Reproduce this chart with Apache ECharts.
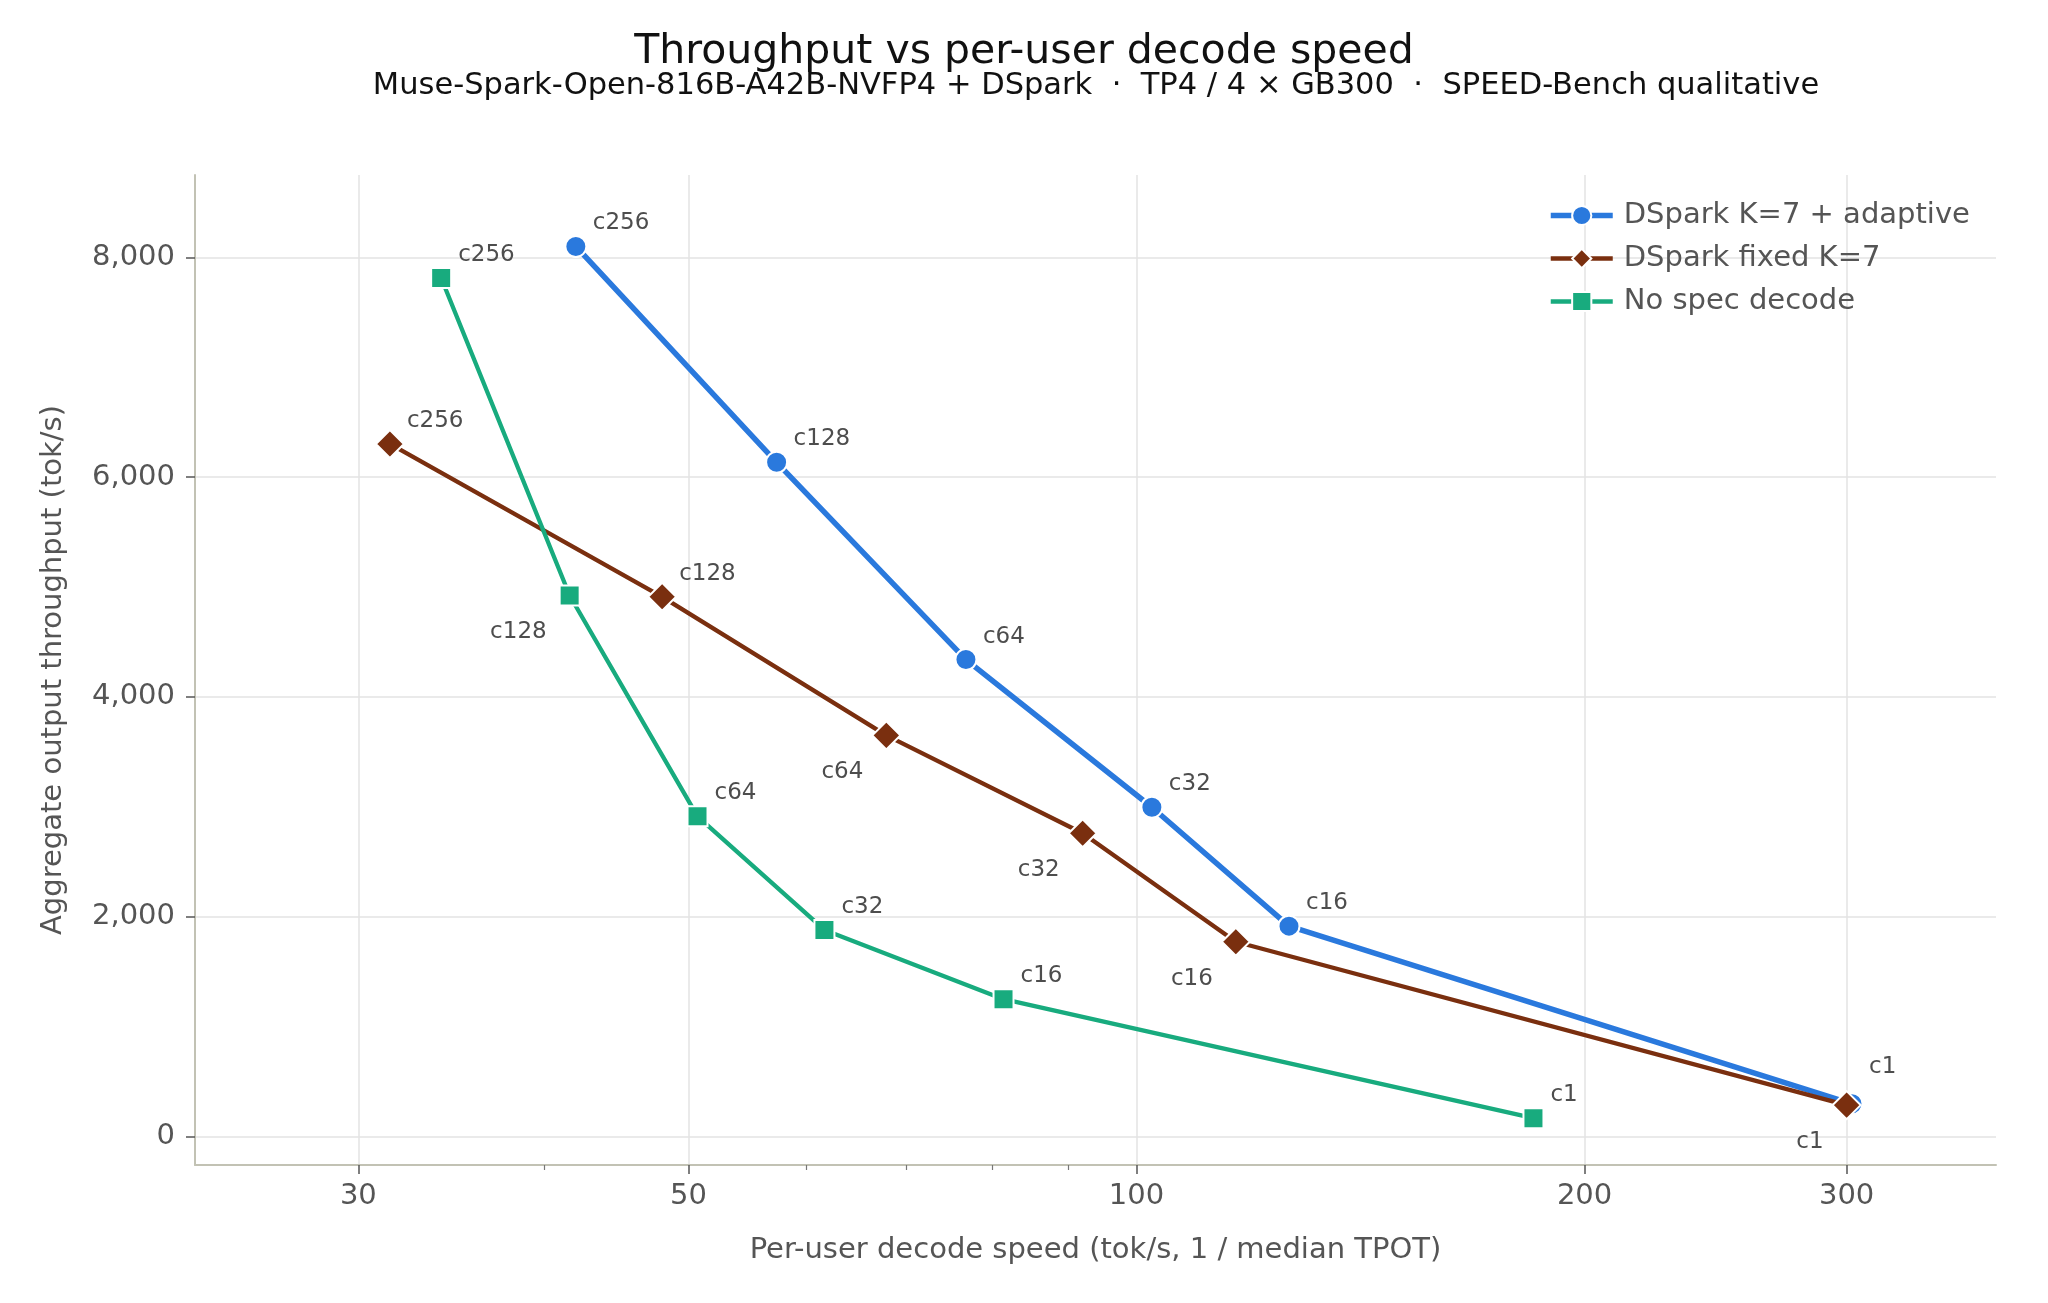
<!DOCTYPE html>
<html lang="en">
<head>
  <meta charset="UTF-8">
  <title>Throughput vs per-user decode speed</title>
  <script src="https://cdn.jsdelivr.net/npm/echarts@6/dist/echarts.min.js"></script>
</head>
<body style="margin:0">
  <div id="main" style="width:2048px;height:1303px;"></div>
<script>
// concurrency levels, same order for all three runs
var concurrency = ['c256', 'c128', 'c64', 'c32', 'c16', 'c1'];

// per-user decode speed (tok/s) and aggregate throughput (tok/s)
var adaptiveSpeed = [42.0, 57.3, 76.8, 102.4, 126.6, 302.5];
var adaptiveTput  = [8100, 6135, 4340, 2996, 1914, 297];
var fixedSpeed    = [31.5, 48.0, 67.9, 92.0, 116.6, 300.0];
var fixedTput     = [6302, 4911, 3650, 2759, 1772, 285];
var noSpecSpeed   = [34.1, 41.6, 50.7, 61.7, 81.4, 184.8];
var noSpecTput    = [7812, 4923, 2913, 1879, 1249, 166];

var xMajorTicks = [30, 50, 100, 200, 300];
var xMinorTicks = [40, 60, 70, 80, 90];
var yTicks = [0, 2000, 4000, 6000, 8000];

var chart = echarts.init(document.getElementById('main'));
var FONT = 'DejaVu Sans';

var BLUE = '#2a79dd', BROWN = '#7a2f0f', GREEN = '#18ab7e';

// labels that sit below-left of their marker instead of above-right
var belowLeft = {
  fixed: ['c64', 'c32', 'c16', 'c1'],
  noSpec: ['c128']
};
// a few labels nudged further up to clear neighbours
var raised = { adaptive: { c1: 14 } };

function points(xs, ys, key) {
  var below = belowLeft[key] || [];
  var lift = raised[key] || {};
  return xs.map(function (x, i) {
    var name = concurrency[i];
    var isBelow = below.indexOf(name) >= 0;
    var up = lift[name] || 0;
    return {
      name: name,
      value: [x, ys[i]],
      label: {
        show: true,
        formatter: name,
        position: 'inside',
        align: isBelow ? 'right' : 'left',
        verticalAlign: 'middle',
        offset: isBelow ? [-23, 37] : [17, -23 - up],
        fontFamily: FONT,
        fontSize: 23,
        color: '#4d4d4d'
      }
    };
  });
}

var gridBox = { left: 195, right: 52, top: 175, bottom: 138 };

var option = {
  animation: false,
  backgroundColor: '#ffffff',
  textStyle: { fontFamily: FONT },
  graphic: [
    {
      type: 'text', x: 1024, y: 52,
      style: { text: 'Throughput vs per-user decode speed', font: '41px "DejaVu Sans"', fill: '#111', align: 'center', verticalAlign: 'middle' }
    },
    {
      type: 'text', x: 1096, y: 86,
      style: { text: 'Muse-Spark-Open-816B-A42B-NVFP4 + DSpark  \u00b7  TP4 / 4 \u00d7 GB300  \u00b7  SPEED-Bench qualitative', font: '30.5px "DejaVu Sans"', fill: '#111', align: 'center', verticalAlign: 'middle' }
    }
  ],
  legend: {
    orient: 'vertical',
    left: 1543,
    top: 196,
    itemWidth: 62,
    itemHeight: 24,
    itemGap: 14,
    textStyle: { fontFamily: FONT, fontSize: 29, color: '#555', padding: [0, 0, 0, 6] },
    data: [
      { name: 'DSpark K=7 + adaptive', lineStyle: { width: 5.5 } },
      { name: 'DSpark fixed K=7', lineStyle: { width: 4.5 } },
      { name: 'No spec decode', lineStyle: { width: 4.3 } }
    ]
  },
  grid: [
    Object.assign({}, gridBox),
    Object.assign({}, gridBox)
  ],
  xAxis: [
    {
      type: 'log',
      logBase: 10,
      min: 23.3,
      max: 378,
      gridIndex: 0,
      position: 'bottom',
      name: 'Per-user decode speed (tok/s, 1 / median TPOT)',
      nameLocation: 'middle',
      nameGap: 71,
      nameTextStyle: { fontFamily: FONT, fontSize: 29, color: '#555', verticalAlign: 'top' },
      axisLine: { show: true, onZero: false, lineStyle: { color: '#c2c2b4', width: 2 } },
      axisTick: { show: true, length: 9, customValues: xMajorTicks, lineStyle: { color: '#555', width: 1.5 } },
      axisLabel: { customValues: xMajorTicks, margin: 17, fontFamily: FONT, fontSize: 29, color: '#555' },
      splitLine: { show: true, lineStyle: { color: '#e3e3e3', width: 1.5 } }
    },
    {
      type: 'log',
      logBase: 10,
      min: 23.3,
      max: 378,
      gridIndex: 1,
      position: 'bottom',
      axisLine: { show: false, onZero: false },
      axisTick: { show: true, length: 5, customValues: xMinorTicks, lineStyle: { color: '#777', width: 1.2 } },
      axisLabel: { show: false },
      splitLine: { show: false }
    }
  ],
  yAxis: [
    {
      type: 'value',
      min: -260,
      max: 8750,
      gridIndex: 0,
      name: 'Aggregate output throughput (tok/s)',
      nameLocation: 'middle',
      nameGap: 127,
      nameTextStyle: { fontFamily: FONT, fontSize: 29, color: '#555' },
      axisLine: { show: true, onZero: false, lineStyle: { color: '#c2c2b4', width: 2 } },
      axisTick: { show: true, length: 9, customValues: yTicks, lineStyle: { color: '#555', width: 1.5 } },
      axisLabel: {
        customValues: yTicks, margin: 20, fontFamily: FONT, fontSize: 29, color: '#555',
        formatter: function (v) { return v.toLocaleString('en-US'); }
      },
      splitLine: { show: true, lineStyle: { color: '#e3e3e3', width: 1.5 } }
    },
    {
      type: 'value', min: -260, max: 8750, gridIndex: 1, show: false
    }
  ],
  series: [
    {
      name: 'DSpark K=7 + adaptive',
      type: 'line',
      xAxisIndex: 0, yAxisIndex: 0,
      data: points(adaptiveSpeed, adaptiveTput, 'adaptive'),
      symbol: 'circle',
      symbolSize: 21,
      lineStyle: { color: BLUE, width: 5.5 },
      itemStyle: { color: BLUE, borderColor: '#fff', borderWidth: 2 }
    },
    {
      name: 'DSpark fixed K=7',
      type: 'line',
      xAxisIndex: 0, yAxisIndex: 0,
      data: points(fixedSpeed, fixedTput, 'fixed'),
      symbol: 'diamond',
      symbolSize: 28,
      lineStyle: { color: BROWN, width: 4.3 },
      itemStyle: { color: BROWN, borderColor: '#fff', borderWidth: 2 }
    },
    {
      name: 'No spec decode',
      type: 'line',
      xAxisIndex: 0, yAxisIndex: 0,
      data: points(noSpecSpeed, noSpecTput, 'noSpec'),
      symbol: 'rect',
      symbolSize: 20,
      lineStyle: { color: GREEN, width: 4.3 },
      itemStyle: { color: GREEN, borderColor: '#fff', borderWidth: 2 }
    }
  ]
};

chart.setOption(option);
</script>
</body>
</html>
